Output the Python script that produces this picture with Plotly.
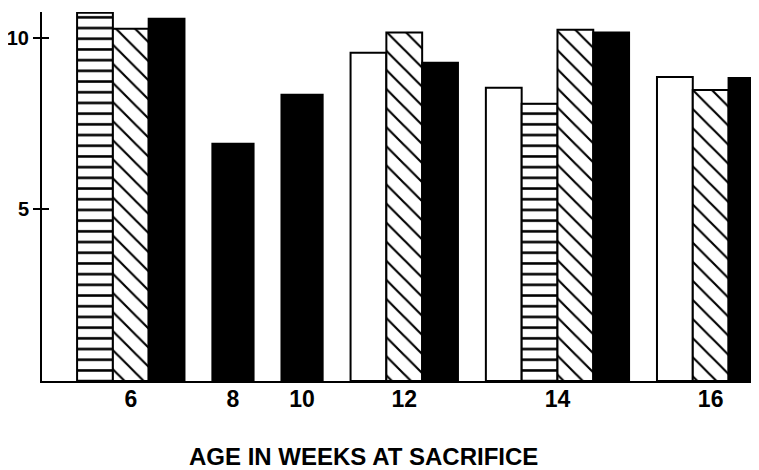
import plotly.graph_objects as go

# ---- data ----
ages = ["6", "8", "10", "12", "14", "16"]
open_vals = [None, None, None, 9.56, 8.54, 8.86]
horiz_vals = [10.73, None, None, None, 8.08, None]
hatch_vals = [10.26, None, None, 10.15, 10.23, 8.48]
solid_vals = [10.55, 6.91, 8.34, 9.27, 10.15, 8.83]
y_tick_vals = [5, 10]
x_title = "AGE IN WEEKS AT SACRIFICE"

# ---- styles ----
LINE = dict(color="black", width=2)
series = [
    ("open", open_vals, dict(color="white", line=LINE)),
    ("horiz", horiz_vals, dict(color="white", line=LINE,
                               pattern=dict(shape="-", size=10.7, solidity=0.24,
                                            fgcolor="black", bgcolor="white",
                                            fgopacity=1))),
    ("hatch", hatch_vals, dict(color="white", line=LINE,
                               pattern=dict(shape="\\", size=13.5, solidity=0.16,
                                            fgcolor="black", bgcolor="white",
                                            fgopacity=1))),
    ("solid", solid_vals, dict(color="black", line=LINE)),
]

BAR_W = 1.0      # width of a bar in a multi-bar group
SINGLE_W = 1.15  # single-bar groups are drawn a bit wider
GAP = 0.78       # gap between groups

# lay bars out contiguously inside each group, in series order
xs = {s[0]: [] for s in series}
ys = {s[0]: [] for s in series}
ws = {s[0]: [] for s in series}
centers = []
cursor = 0.0
for gi in range(len(ages)):
    present = [s for s in series if s[1][gi] is not None]
    w = SINGLE_W if len(present) == 1 else BAR_W
    start = cursor
    for name, vals, _ in present:
        xs[name].append(cursor + w / 2)
        ys[name].append(vals[gi])
        ws[name].append(w)
        cursor += w
    centers.append((start + cursor) / 2)
    cursor += GAP

fig = go.Figure()
for name, vals, marker in series:
    fig.add_trace(go.Bar(x=xs[name], y=ys[name], width=ws[name], marker=marker,
                         showlegend=False, hoverinfo="skip"))
# invisible trace so the overlay axis (inner tick halves) is drawn
fig.add_trace(go.Scatter(x=[centers[0]], y=[0], yaxis="y2", mode="markers",
                         marker=dict(opacity=0), showlegend=False, hoverinfo="skip"))

FONT = dict(family="Liberation Sans", color="black", size=23, weight="bold")
YMAX = 10.75

# the page body adds an 8px margin, so the figure is laid out 8px smaller
fig.update_layout(
    width=751, height=462,
    margin=dict(l=34, r=0, t=4, b=89),
    paper_bgcolor="white", plot_bgcolor="white",
    barmode="overlay",
    xaxis=dict(range=[-0.98, 19.05], showgrid=False, zeroline=False,
               automargin=False,
               showline=True, linecolor="black", linewidth=2,
               tickmode="array", tickvals=centers, ticktext=ages,
               ticks="", tickfont=FONT, ticklabelstandoff=-4),
    yaxis=dict(range=[0, YMAX], showgrid=False, zeroline=False,
               automargin=False,
               showline=True, linecolor="black", linewidth=2,
               tickmode="array", tickvals=y_tick_vals,
               ticks="outside", ticklen=7, tickwidth=2, tickcolor="black",
               tickfont=dict(FONT, size=20), ticklabelstandoff=0),
    yaxis2=dict(range=[0, YMAX], overlaying="y", side="left", anchor="x",
                automargin=False,
                showgrid=False, zeroline=False, showline=False,
                tickmode="array", tickvals=y_tick_vals, showticklabels=False,
                ticks="inside", ticklen=7, tickwidth=2, tickcolor="black"),
    annotations=[dict(text=x_title, xref="paper", yref="paper",
                      x=(363 - 42) / 717, y=0, xanchor="center", yanchor="middle",
                      yshift=-75, showarrow=False,
                      font=dict(FONT, size=24))],
)

fig.write_html("out.html")
